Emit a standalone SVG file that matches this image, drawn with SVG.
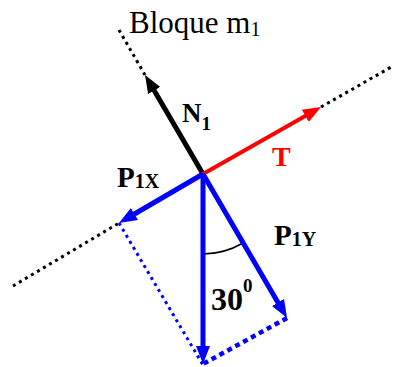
<svg xmlns="http://www.w3.org/2000/svg" width="395" height="367" viewBox="0 0 395 367">
<style>
.dotk{stroke:#000;stroke-width:3;stroke-dasharray:3 4;fill:none}
.dotb{stroke:#0000ff;stroke-width:3;stroke-dasharray:3 4;fill:none}
.dotb2{stroke:#0000ff;stroke-width:4.5;stroke-dasharray:5 4;fill:none}
.vb{stroke:#0000ff;stroke-width:5;fill:none}
.vk{stroke:#000;stroke-width:5;fill:none}
.vr{stroke:#ff0000;stroke-width:4;fill:none}
text{font-family:"Liberation Serif","Times New Roman",serif}
.lbl{font-weight:bold}
</style>
<defs>
<marker id="ab" viewBox="0 0 18 14" markerWidth="18" markerHeight="14" refX="8" refY="7" orient="auto" markerUnits="userSpaceOnUse"><path d="M0,0 L18,7 L0,14 z" fill="#0000ff"/></marker>
<marker id="ak" viewBox="0 0 18 14" markerWidth="18" markerHeight="14" refX="8" refY="7" orient="auto" markerUnits="userSpaceOnUse"><path d="M0,0 L18,7 L0,14 z" fill="#000"/></marker>
<marker id="ar" viewBox="0 0 18 14" markerWidth="18" markerHeight="14" refX="8" refY="7" orient="auto" markerUnits="userSpaceOnUse"><path d="M0,0 L18,7 L0,14 z" fill="#ff0000"/></marker>
</defs>
<g id="connectors">
<line class="dotk" x1="13" y1="286" x2="119" y2="223"/>
<line class="dotk" x1="321" y1="107" x2="393" y2="66"/>
<line class="dotk" x1="145" y1="75" x2="119" y2="30"/>
<line class="dotb" x1="119" y1="223" x2="203" y2="365"/>
<line class="dotb2" x1="287" y1="318" x2="203" y2="364"/>
<path d="M203,254 A80,80 0 0 0 243,243" fill="none" stroke="#000" stroke-width="1.5"/>
<line class="vk" x1="203" y1="174" x2="150.1" y2="83.6" marker-end="url(#ak)"/>
<line class="vr" x1="203" y1="174" x2="312.3" y2="111.9" marker-end="url(#ar)"/>
<line class="vb" x1="203" y1="174" x2="127.6" y2="218" marker-end="url(#ab)"/>
<line class="vb" x1="203" y1="174" x2="203" y2="354" marker-end="url(#ab)"/>
<line class="vb" x1="203" y1="174" x2="282" y2="309.4" marker-end="url(#ab)"/>
</g>
<g id="bloque"><text x="129" y="33" font-size="31">Bloque m<tspan font-size="20" dy="3">1</tspan></text></g>
<g id="N1"><text class="lbl" x="182" y="122" font-size="27">N<tspan font-size="19" dy="8">1</tspan></text></g>
<g id="T"><text class="lbl" x="272" y="166" font-size="28" fill="#ff0000">T</text></g>
<g id="P1X"><text class="lbl" x="117" y="187" font-size="29">P<tspan font-size="20" dy="1">1X</tspan></text></g>
<g id="P1Y"><text class="lbl" x="274" y="245" font-size="29">P<tspan font-size="20" dy="1">1Y</tspan></text></g>
<g id="angle"><text class="lbl" x="211" y="310" font-size="32">30<tspan font-size="19" dy="-18">0</tspan></text></g>
</svg>
